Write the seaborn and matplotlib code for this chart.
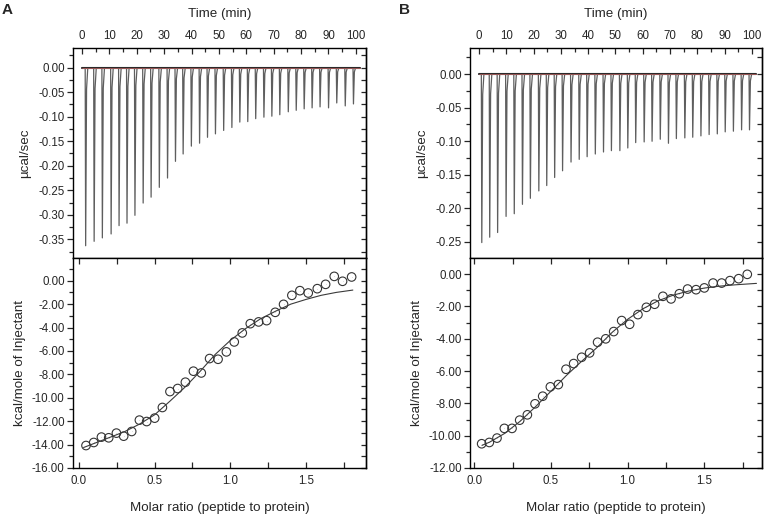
import numpy as np
import pandas as pd
import matplotlib
matplotlib.use("Agg")
import matplotlib.pyplot as plt
import seaborn as sns
from matplotlib.ticker import MultipleLocator, FormatStrFormatter, NullFormatter

sns.set_style("ticks")
plt.rcParams["font.family"] = ["Liberation Sans", "DejaVu Sans"]
plt.rcParams["axes.unicode_minus"] = False

# ---------------- data ----------------
inj_time_A = [1.2, 4.3, 7.3, 10.5, 13.4, 16.3, 19.2, 22.2, 25.1, 28.1, 31.1, 34.0,
              36.8, 39.8, 42.8, 45.7, 48.6, 51.6, 54.6, 57.5, 60.4, 63.3, 66.3, 69.2,
              72.1, 75.2, 78.1, 81.0, 83.9, 86.8, 89.9, 92.9, 96.0, 99.0]
peak_A = [-0.363, -0.354, -0.347, -0.339, -0.322, -0.317, -0.301, -0.276, -0.264,
          -0.244, -0.225, -0.191, -0.176, -0.160, -0.154, -0.142, -0.135, -0.128,
          -0.122, -0.111, -0.110, -0.104, -0.101, -0.099, -0.096, -0.090, -0.087,
          -0.084, -0.082, -0.080, -0.082, -0.072, -0.078, -0.074]

inj_time_B = [0.9, 3.8, 6.7, 9.8, 12.8, 15.8, 18.7, 21.8, 24.7, 27.6, 30.5, 33.6,
              36.6, 39.5, 42.5, 45.5, 48.4, 51.5, 54.4, 57.3, 60.4, 63.3, 66.3, 69.3,
              72.2, 75.3, 78.2, 81.2, 84.2, 87.2, 90.1, 93.1, 96.1, 99.0]
peak_B = [-0.251, -0.243, -0.236, -0.212, -0.208, -0.194, -0.185, -0.174, -0.166,
          -0.154, -0.144, -0.131, -0.127, -0.123, -0.119, -0.116, -0.114, -0.114,
          -0.110, -0.102, -0.101, -0.100, -0.097, -0.103, -0.096, -0.095, -0.094,
          -0.092, -0.090, -0.089, -0.086, -0.085, -0.083, -0.083]

ratio_A = [0.046, 0.097, 0.148, 0.196, 0.247, 0.295, 0.348, 0.399, 0.447, 0.500,
           0.551, 0.601, 0.652, 0.703, 0.756, 0.808, 0.863, 0.919, 0.974, 1.026,
           1.079, 1.132, 1.187, 1.240, 1.297, 1.352, 1.407, 1.460, 1.515, 1.575,
           1.630, 1.687, 1.742, 1.802]
heat_A = [-14.08, -13.82, -13.36, -13.42, -13.02, -13.28, -12.88, -11.91, -12.03,
          -11.74, -10.83, -9.47, -9.21, -8.67, -7.73, -7.88, -6.65, -6.71, -6.08,
          -5.23, -4.46, -3.67, -3.52, -3.41, -2.70, -2.02, -1.25, -0.85, -1.05,
          -0.68, -0.31, 0.37, -0.05, 0.32]
fit_ratio_A = [0.03, 0.1, 0.2, 0.3, 0.4, 0.5, 0.6, 0.7, 0.8, 0.9, 1.0, 1.1, 1.2,
               1.3, 1.4, 1.5, 1.6, 1.7, 1.81]
fit_heat_A = [-14.25, -13.9, -13.4, -12.9, -12.25, -11.45, -10.3, -9.1, -7.75,
              -6.3, -5.1, -4.1, -3.25, -2.6, -2.0, -1.6, -1.25, -1.0, -0.8]

ratio_B = [0.048, 0.098, 0.148, 0.196, 0.246, 0.296, 0.346, 0.396, 0.446, 0.496,
           0.548, 0.598, 0.648, 0.700, 0.752, 0.804, 0.857, 0.909, 0.961, 1.013,
           1.067, 1.122, 1.176, 1.230, 1.283, 1.337, 1.391, 1.446, 1.500, 1.557,
           1.613, 1.667, 1.724, 1.780]
heat_B = [-10.50, -10.42, -10.15, -9.55, -9.55, -9.04, -8.71, -8.03, -7.56, -6.98,
          -6.84, -5.89, -5.54, -5.15, -4.88, -4.22, -4.01, -3.56, -2.88, -3.11,
          -2.51, -2.06, -1.87, -1.38, -1.54, -1.22, -0.93, -0.97, -0.86, -0.56,
          -0.56, -0.41, -0.29, -0.02]
fit_ratio_B = [0.05, 0.1, 0.2, 0.3, 0.4, 0.5, 0.6, 0.7, 0.8, 0.9, 1.0, 1.1, 1.2,
               1.3, 1.4, 1.5, 1.6, 1.7, 1.84]
fit_heat_B = [-10.6, -10.4, -9.85, -9.1, -8.2, -7.25, -6.28, -5.4, -4.55, -3.6,
              -2.8, -2.15, -1.65, -1.3, -1.05, -0.87, -0.75, -0.67, -0.58]

time_ticks = [0, 10, 20, 30, 40, 50, 60, 70, 80, 90, 100]

# spike drawing style (relative time offsets / fraction of peak)
SPIKE_DT = [-0.05, 0.12, 0.45, 0.9]
SPIKE_FR = [0.0, 1.0, 0.12, 0.0]


def thermogram(times, peaks, t0, t1):
    rows = [(t0, 0.0)]
    for t, h in zip(times, peaks):
        for dt, fr in zip(SPIKE_DT, SPIKE_FR):
            rows.append((t + dt, h * fr))
    rows.append((t1, 0.0))
    return pd.DataFrame(rows, columns=["time", "power"])


fig = plt.figure(figsize=(7.67, 5.18), dpi=100)

W, H = 767.0, 518.0
TICK_FS = 8.3
LAB_FS = 9.6


def box(x0, x1, y0, y1):
    return [x0 / W, 1 - y1 / H, (x1 - x0) / W, (y1 - y0) / H]


def style_spines(ax):
    for s in ax.spines.values():
        s.set_linewidth(1.0)
        s.set_color("black")


def draw_panel(x0, x1, times, peaks, p_ylim, p_major, ratio, heat, fr, fh,
               b_xlim, b_ylim, letter):
    # ---- thermogram (top) ----
    ax = fig.add_axes(box(x0, x1, 48, 258))
    df = thermogram(times, peaks, 0.0, 101.5)
    sns.lineplot(data=df, x="time", y="power", ax=ax, color="#5e5e5e", lw=0.9,
                 sort=False, estimator=None)
    base = pd.DataFrame({"time": [0.0, 101.5], "power": [0.0, 0.0]})
    sns.lineplot(data=base, x="time", y="power", ax=ax, color="#2a2a2a", lw=1.5,
                 sort=False, estimator=None)
    sns.lineplot(data=base, x="time", y="power", ax=ax, color="#c86a68", lw=0.5,
                 sort=False, estimator=None)
    ax.set_xlim(-3.3, 103.7)
    ax.set_ylim(*p_ylim)
    ax.xaxis.tick_top()
    ax.xaxis.set_label_position("top")
    ax.set_xticks(time_ticks)
    ax.xaxis.set_minor_locator(MultipleLocator(5))
    ax.tick_params(axis="x", which="both", direction="in", top=True, bottom=False,
                   labeltop=True, labelbottom=False, labelsize=TICK_FS, pad=4.5)
    ax.tick_params(axis="x", which="major", length=4.5, width=0.9)
    ax.tick_params(axis="x", which="minor", length=2.6, width=0.9)
    ax.yaxis.set_major_locator(MultipleLocator(p_major))
    ax.yaxis.set_minor_locator(MultipleLocator(p_major / 2))
    ax.yaxis.set_major_formatter(FormatStrFormatter("%.2f"))
    ax.tick_params(axis="y", which="both", direction="out", left=True, right=False,
                   labelsize=TICK_FS, pad=1.5)
    ax.tick_params(axis="y", which="major", length=4.5, width=0.9)
    ax.tick_params(axis="y", which="minor", length=2.6, width=0.9)
    sec = ax.secondary_yaxis("right")
    sec.yaxis.set_major_locator(MultipleLocator(p_major / 2))
    sec.yaxis.set_major_formatter(NullFormatter())
    sec.tick_params(axis="y", direction="in", length=3.5, width=0.9)
    sec.spines["right"].set_linewidth(1.0)
    ax.set_xlabel("Time (min)", fontsize=LAB_FS, labelpad=9)
    ax.set_ylabel("\u00b5cal/sec", fontsize=LAB_FS, labelpad=5)
    style_spines(ax)

    # ---- integrated heats (bottom) ----
    bx = fig.add_axes(box(x0, x1, 258, 468))
    pts = pd.DataFrame({"ratio": ratio, "heat": heat})
    fit = pd.DataFrame({"ratio": fr, "heat": fh})
    sns.lineplot(data=fit, x="ratio", y="heat", ax=bx, color="#3a3a3a", lw=0.8,
                 sort=False, estimator=None)
    sns.scatterplot(data=pts, x="ratio", y="heat", ax=bx, marker="o", s=38,
                    facecolor="none", edgecolor="#333333", linewidth=0.8)
    sns.scatterplot(data=pts, x="ratio", y="heat", ax=bx, marker=".", s=2,
                    color="#555555", linewidth=0)
    bx.set_xlim(*b_xlim)
    bx.set_ylim(*b_ylim)
    bx.xaxis.set_major_locator(MultipleLocator(0.5))
    bx.xaxis.set_minor_locator(MultipleLocator(0.25))
    bx.xaxis.set_major_formatter(FormatStrFormatter("%.1f"))
    bx.tick_params(axis="x", which="both", direction="in", top=True, bottom=True,
                   labelsize=TICK_FS, pad=5)
    bx.tick_params(axis="x", which="major", length=4.5, width=0.9)
    bx.tick_params(axis="x", which="minor", length=4.5, width=0.9)
    bx.yaxis.set_major_locator(MultipleLocator(2))
    bx.yaxis.set_minor_locator(MultipleLocator(1))
    bx.yaxis.set_major_formatter(FormatStrFormatter("%.2f"))
    bx.tick_params(axis="y", which="both", direction="out", left=True, right=False,
                   labelsize=TICK_FS, pad=1.5)
    bx.tick_params(axis="y", which="major", length=4.5, width=0.9)
    bx.tick_params(axis="y", which="minor", length=2.6, width=0.9)
    sec2 = bx.secondary_yaxis("right")
    sec2.yaxis.set_major_locator(MultipleLocator(1))
    sec2.yaxis.set_major_formatter(NullFormatter())
    sec2.tick_params(axis="y", direction="in", length=3.5, width=0.9)
    sec2.spines["right"].set_linewidth(1.0)
    bx.set_xlabel("Molar ratio (peptide to protein)", fontsize=LAB_FS, labelpad=11)
    bx.set_ylabel("kcal/mole of Injectant", fontsize=LAB_FS, labelpad=4)
    style_spines(bx)

    fig.text((x0 - 71) / W, 1 - 3 / H, letter, fontsize=11, fontweight="bold",
             ha="left", va="top")


draw_panel(73, 366, inj_time_A, peak_A, (-0.388, 0.040), 0.05,
           ratio_A, heat_A, fit_ratio_A, fit_heat_A,
           (-0.04, 1.897), (-16.0, 1.94), "A")
draw_panel(470, 762, inj_time_B, peak_B, (-0.274, 0.039), 0.05,
           ratio_B, heat_B, fit_ratio_B, fit_heat_B,
           (-0.028, 1.876), (-12.0, 0.99), "B")

fig.savefig("out.png", dpi=100)
